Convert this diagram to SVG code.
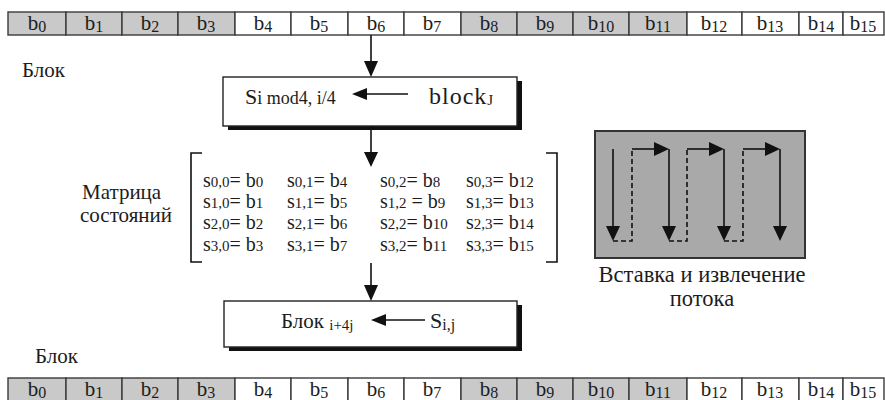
<svg xmlns="http://www.w3.org/2000/svg" width="885" height="400" viewBox="0 0 885 400">
  <style>
    .t { font-family: "Liberation Serif", "Times New Roman", serif; font-size: 21px; fill: #1c1c1c; }
    .sub { font-size: 16px; }
    .m { font-size: 20px; }
    .m .sub { font-size: 15px; }
    .cap { font-size: 22.5px; }
    .cellG { fill: #c9c9c9; stroke: #3a3a3a; stroke-width: 1.4; }
    .cellW { fill: #ffffff; stroke: #3a3a3a; stroke-width: 1.4; }
    .box { fill: #ffffff; stroke: #222; stroke-width: 1.4; }
    .shadow { fill: #111; }
    .line { stroke: #111; stroke-width: 1.6; fill: none; }
    .dash { stroke: #111; stroke-width: 1.6; fill: none; stroke-dasharray: 5 3; }
    .head { fill: #111; }
  </style>

  <!-- top byte row -->
  <g id="row-top">
    <rect class="cellG" x="8" y="12" width="58" height="23"/>
    <rect class="cellG" x="66" y="12" width="56" height="23"/>
    <rect class="cellG" x="122" y="12" width="56" height="23"/>
    <rect class="cellG" x="178" y="12" width="57" height="23"/>
    <rect class="cellW" x="235" y="12" width="56" height="23"/>
    <rect class="cellW" x="291" y="12" width="57" height="23"/>
    <rect class="cellW" x="348" y="12" width="56" height="23"/>
    <rect class="cellW" x="404" y="12" width="57" height="23"/>
    <rect class="cellG" x="461" y="12" width="56" height="23"/>
    <rect class="cellG" x="517" y="12" width="56" height="23"/>
    <rect class="cellG" x="573" y="12" width="56" height="23"/>
    <rect class="cellG" x="629" y="12" width="58" height="23"/>
    <rect class="cellW" x="687" y="12" width="55" height="23"/>
    <rect class="cellW" x="742" y="12" width="57" height="23"/>
    <rect class="cellW" x="799" y="12" width="44" height="23"/>
    <rect class="cellW" x="843" y="12" width="41" height="23"/>
    <g class="t" text-anchor="middle">
      <text x="37" y="30">b<tspan class="sub" dy="2">0</tspan></text>
      <text x="94" y="30">b<tspan class="sub" dy="2">1</tspan></text>
      <text x="150" y="30">b<tspan class="sub" dy="2">2</tspan></text>
      <text x="206" y="30">b<tspan class="sub" dy="2">3</tspan></text>
      <text x="263" y="30">b<tspan class="sub" dy="2">4</tspan></text>
      <text x="319" y="30">b<tspan class="sub" dy="2">5</tspan></text>
      <text x="376" y="30">b<tspan class="sub" dy="2">6</tspan></text>
      <text x="432" y="30">b<tspan class="sub" dy="2">7</tspan></text>
      <text x="489" y="30">b<tspan class="sub" dy="2">8</tspan></text>
      <text x="545" y="30">b<tspan class="sub" dy="2">9</tspan></text>
      <text x="601" y="30">b<tspan class="sub" dy="2">10</tspan></text>
      <text x="658" y="30">b<tspan class="sub" dy="2">11</tspan></text>
      <text x="714" y="30">b<tspan class="sub" dy="2">12</tspan></text>
      <text x="770" y="30">b<tspan class="sub" dy="2">13</tspan></text>
      <text x="821" y="30">b<tspan class="sub" dy="2">14</tspan></text>
      <text x="863" y="30">b<tspan class="sub" dy="2">15</tspan></text>
    </g>
  </g>

  <text class="t" x="22" y="77">Блок</text>

  <!-- state fill box -->
  <g id="box-load">
    <rect class="shadow" x="228" y="81" width="294" height="49"/>
    <rect class="box" x="223" y="77" width="294" height="49"/>
    <text class="t" x="245" y="104"><tspan font-size="22">S</tspan><tspan font-size="18">i mod4, i/4</tspan></text>
    <line class="line" x1="408" y1="94" x2="364" y2="94"/>
    <polygon class="head" points="352,94 367,88 367,100"/>
    <text class="t" x="429" y="104"><tspan font-size="24" letter-spacing="1">block</tspan><tspan font-size="15" dy="1">J</tspan></text>
  </g>

  <!-- state matrix -->
  <g id="matrix">
    <text class="t" x="82" y="199">Матрица</text>
    <text class="t" x="80" y="222">состояний</text>
    <path class="line" d="M202,153 H191 V262 H202"/>
    <path class="line" d="M546,153 H557 V262 H546"/>
    <g class="t m">
      <text x="203" y="187">s<tspan class="sub">0,0</tspan>= b<tspan class="sub">0</tspan></text>
      <text x="287" y="187">s<tspan class="sub">0,1</tspan>= b<tspan class="sub">4</tspan></text>
      <text x="380" y="187">s<tspan class="sub">0,2</tspan>= b<tspan class="sub">8</tspan></text>
      <text x="466" y="187">s<tspan class="sub">0,3</tspan>= b<tspan class="sub">12</tspan></text>

      <text x="203" y="208">s<tspan class="sub">1,0</tspan>= b<tspan class="sub">1</tspan></text>
      <text x="287" y="208">s<tspan class="sub">1,1</tspan>= b<tspan class="sub">5</tspan></text>
      <text x="380" y="208">s<tspan class="sub">1,2</tspan> = b<tspan class="sub">9</tspan></text>
      <text x="466" y="208">s<tspan class="sub">1,3</tspan>= b<tspan class="sub">13</tspan></text>

      <text x="203" y="229">s<tspan class="sub">2,0</tspan>= b<tspan class="sub">2</tspan></text>
      <text x="287" y="229">s<tspan class="sub">2,1</tspan>= b<tspan class="sub">6</tspan></text>
      <text x="380" y="229">s<tspan class="sub">2,2</tspan>= b<tspan class="sub">10</tspan></text>
      <text x="466" y="229">s<tspan class="sub">2,3</tspan>= b<tspan class="sub">14</tspan></text>

      <text x="203" y="251">s<tspan class="sub">3,0</tspan>= b<tspan class="sub">3</tspan></text>
      <text x="287" y="251">s<tspan class="sub">3,1</tspan>= b<tspan class="sub">7</tspan></text>
      <text x="380" y="251">s<tspan class="sub">3,2</tspan>= b<tspan class="sub">11</tspan></text>
      <text x="466" y="251">s<tspan class="sub">3,3</tspan>= b<tspan class="sub">15</tspan></text>
    </g>
  </g>

  <!-- column-wise insertion / extraction order -->
  <g id="stream-panel">
    <rect x="595" y="131" width="210" height="127" fill="#a9a9a9" stroke="#333" stroke-width="2"/>
    <g>
      <line class="line" x1="613" y1="149" x2="613" y2="228"/>
      <polygon class="head" points="613,241 606,226 620,226"/>
      <path class="dash" d="M613,241 H632 V149"/>
      <line class="line" x1="632" y1="149" x2="656" y2="149"/>
      <polygon class="head" points="669,149 654,142 654,156"/>
      <line class="line" x1="669" y1="149" x2="669" y2="228"/>
      <polygon class="head" points="669,241 662,226 676,226"/>
      <path class="dash" d="M669,241 H687 V149"/>
      <line class="line" x1="687" y1="149" x2="711" y2="149"/>
      <polygon class="head" points="724,149 709,142 709,156"/>
      <line class="line" x1="724" y1="149" x2="724" y2="228"/>
      <polygon class="head" points="724,241 717,226 731,226"/>
      <path class="dash" d="M724,241 H743 V149"/>
      <line class="line" x1="743" y1="149" x2="767" y2="149"/>
      <polygon class="head" points="780,149 765,142 765,156"/>
      <line class="line" x1="780" y1="149" x2="780" y2="228"/>
      <polygon class="head" points="780,241 773,226 787,226"/>
    </g>
    <text class="t cap" x="702" y="282" text-anchor="middle">Вставка и извлечение</text>
    <text class="t cap" x="702" y="306" text-anchor="middle">потока</text>
  </g>

  <!-- block output box -->
  <g id="box-store">
    <rect class="shadow" x="229" y="305" width="293" height="46"/>
    <rect class="box" x="224" y="301" width="293" height="46"/>
    <text class="t" x="281" y="328">Блок <tspan font-size="15" dy="2">i+4j</tspan></text>
    <line class="line" x1="425" y1="320" x2="383" y2="320"/>
    <polygon class="head" points="371,320 386,314 386,326"/>
    <text class="t" x="430" y="328"><tspan font-size="22">S</tspan><tspan class="sub" dy="2">i,j</tspan></text>
  </g>

  <text class="t" x="35" y="363">Блок</text>

  <!-- bottom byte row -->
  <g id="row-bottom">
    <rect class="cellG" x="8" y="378" width="58" height="23"/>
    <rect class="cellG" x="66" y="378" width="56" height="23"/>
    <rect class="cellG" x="122" y="378" width="56" height="23"/>
    <rect class="cellG" x="178" y="378" width="57" height="23"/>
    <rect class="cellW" x="235" y="378" width="56" height="23"/>
    <rect class="cellW" x="291" y="378" width="57" height="23"/>
    <rect class="cellW" x="348" y="378" width="56" height="23"/>
    <rect class="cellW" x="404" y="378" width="57" height="23"/>
    <rect class="cellG" x="461" y="378" width="56" height="23"/>
    <rect class="cellG" x="517" y="378" width="56" height="23"/>
    <rect class="cellG" x="573" y="378" width="56" height="23"/>
    <rect class="cellG" x="629" y="378" width="58" height="23"/>
    <rect class="cellW" x="687" y="378" width="55" height="23"/>
    <rect class="cellW" x="742" y="378" width="57" height="23"/>
    <rect class="cellW" x="799" y="378" width="44" height="23"/>
    <rect class="cellW" x="843" y="378" width="41" height="23"/>
    <g class="t" text-anchor="middle">
      <text x="37" y="396">b<tspan class="sub" dy="2">0</tspan></text>
      <text x="94" y="396">b<tspan class="sub" dy="2">1</tspan></text>
      <text x="150" y="396">b<tspan class="sub" dy="2">2</tspan></text>
      <text x="206" y="396">b<tspan class="sub" dy="2">3</tspan></text>
      <text x="263" y="396">b<tspan class="sub" dy="2">4</tspan></text>
      <text x="319" y="396">b<tspan class="sub" dy="2">5</tspan></text>
      <text x="376" y="396">b<tspan class="sub" dy="2">6</tspan></text>
      <text x="432" y="396">b<tspan class="sub" dy="2">7</tspan></text>
      <text x="489" y="396">b<tspan class="sub" dy="2">8</tspan></text>
      <text x="545" y="396">b<tspan class="sub" dy="2">9</tspan></text>
      <text x="601" y="396">b<tspan class="sub" dy="2">10</tspan></text>
      <text x="658" y="396">b<tspan class="sub" dy="2">11</tspan></text>
      <text x="714" y="396">b<tspan class="sub" dy="2">12</tspan></text>
      <text x="770" y="396">b<tspan class="sub" dy="2">13</tspan></text>
      <text x="821" y="396">b<tspan class="sub" dy="2">14</tspan></text>
      <text x="863" y="396">b<tspan class="sub" dy="2">15</tspan></text>
    </g>
  </g>

  <!-- connectors -->
  <g id="connectors">
    <line class="line" x1="371" y1="35" x2="371" y2="63"/>
    <polygon class="head" points="371,77 364,61 378,61"/>
    <line class="line" x1="371" y1="126" x2="371" y2="154"/>
    <polygon class="head" points="371,167 364,152 378,152"/>
    <line class="line" x1="371" y1="263" x2="371" y2="287"/>
    <polygon class="head" points="371,301 364,285 378,285"/>
  </g>
</svg>
